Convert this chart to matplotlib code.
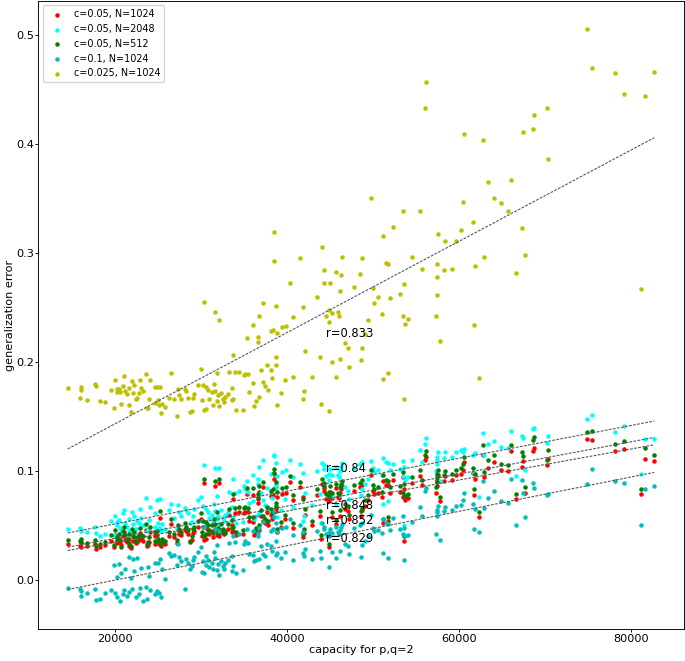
import numpy as np
import matplotlib.pyplot as plt

# network capacity (shared by all runs)
capacity = [
    14565, 16030, 16107, 16150, 16760, 17764, 17879, 18303, 18881, 19650,
    19998, 20114, 20306, 20345, 20500, 20653, 20807, 21000, 21077, 21193,
    21500, 21655, 21732, 21963, 22040, 22156, 22271, 22464, 22657, 22811,
    23003, 23119, 23350, 23658, 23735, 23890, 23967, 24121, 24660, 24737,
    24968, 25046, 25123, 25277, 25354, 25508, 25816, 26356, 26510, 26895,
    27203, 27319, 27511, 27665, 28128, 28282, 28513, 28744, 28976, 29168,
    29284, 29746, 30016, 30170, 30247, 30390, 30401, 30594, 30671, 30825,
    30941, 31326, 31441, 31519, 31634, 31720, 31865, 31904, 32020, 32080,
    32174, 32366, 32559, 32752, 32829, 33137, 33252, 33599, 33638, 33715,
    33792, 34023, 34100, 34408, 34871, 34986, 35140, 35410, 35525, 35641,
    36060, 36064, 36219, 36411, 36660, 36700, 36740, 36796, 36990, 37220,
    37221, 37452, 37760, 37800, 38150, 38222, 38300, 38430, 38470, 38510,
    38762, 38800, 38790, 38830, 38840, 39340, 39430, 39840, 39870, 40360,
    40720, 40730, 41480, 41880, 41920, 41960, 42080, 42960, 43490, 43810,
    43930, 44090, 44290, 44330, 44500, 44860, 44890, 44900, 45020, 45200,
    45260, 45660, 45700, 45900, 46100, 46200, 46220, 46340, 46380, 46710,
    47070, 47240, 47750, 48470, 48670, 48700, 48790, 49120, 49440, 49760,
    50000, 50120, 50600, 51000, 51170, 51200, 51530, 51750, 51810, 51970,
    52290, 53130, 53500, 53540, 53640, 53660, 53700, 54100, 54540, 55420,
    55710, 56030, 56110, 57310, 57390, 57400, 57430, 57590, 57840, 58280,
    58400, 59240, 59600, 60200, 60490, 60570, 61570, 61770, 61850, 62270,
    62820, 62940, 63380, 64100, 64910, 65670, 66030, 66630, 67320, 67400,
    67640, 68600, 68720, 70250, 70370, 74870, 75390, 78090, 79210, 81140,
    81620, 82670]

# c=0.05, N=1024
err_c05_n1024 = [
    .033, .031, .030, .034, .031, .033, .028, .030, .032, .036,
    .030, .041, .036, .034, .038, .035, .032, .040, .044, .037,
    .035, .031, .038, .029, .042, .036, .039, .034, .035, .037,
    .043, .038, .036, .046, .031, .032, .035, .044, .033, .040,
    .041, .035, .033, .057, .031, .035, .033, .040, .051, .039,
    .034, .046, .042, .041, .047, .045, .042, .036, .037, .043,
    .045, .049, .056, .040, .049, .089, .037, .038, .048, .046,
    .042, .045, .039, .051, .047, .086, .057, .041, .044, .089,
    .040, .046, .043, .042, .045, .047, .060, .050, .044, .074,
    .045, .061, .041, .062, .042, .061, .062, .079, .062, .054,
    .078, .053, .041, .044, .074, .071, .081, .046, .059, .085,
    .054, .052, .062, .050, .077, .060, .056, .078, .093, .097,
    .066, .063, .085, .076, .044, .049, .079, .056, .080, .090,
    .073, .048, .085, .076, .039, .043, .060, .050, .078, .059,
    .038, .088, .082, .084, .074, .076, .030, .072, .081, .058,
    .075, .084, .051, .076, .075, .059, .080, .083, .086, .065,
    .063, .056, .082, .085, .059, .087, .064, .068, .073, .096,
    .082, .079, .080, .076, .091, .052, .087, .054, .087, .080,
    .092, .081, .076, .094, .036, .083, .073, .075, .089, .095,
    .087, .110, .113, .080, .092, .090, .086, .096, .072, .091,
    .095, .092, .096, .097, .101, .108, .098, .078, .093, .058,
    .115, .094, .103, .108, .101, .100, .118, .074, .104, .109,
    .080, .118, .121, .105, .111, .129, .128, .118, .120, .079,
    .111, .109]

# c=0.05, N=2048
err_c05_n2048 = [
    .047, .048, .045, .046, .044, .049, .043, .040, .042, .054,
    .041, .059, .053, .050, .055, .048, .044, .061, .064, .052,
    .049, .045, .056, .042, .062, .051, .059, .047, .054, .052,
    .065, .057, .050, .075, .045, .047, .055, .067, .049, .061,
    .073, .052, .048, .074, .045, .051, .047, .064, .070, .057,
    .048, .069, .062, .059, .066, .064, .061, .052, .053, .059,
    .065, .073, .076, .054, .068, .105, .049, .052, .065, .062,
    .057, .060, .053, .070, .063, .103, .077, .056, .059, .103,
    .051, .064, .057, .054, .060, .062, .081, .067, .055, .093,
    .058, .080, .052, .082, .053, .086, .083, .091, .081, .071,
    .096, .072, .056, .059, .093, .088, .104, .061, .080, .110,
    .073, .069, .084, .066, .097, .081, .075, .098, .114, .115,
    .087, .084, .107, .095, .058, .064, .099, .074, .101, .110,
    .094, .067, .106, .098, .054, .059, .080, .069, .100, .079,
    .052, .107, .102, .105, .095, .097, .044, .092, .102, .077,
    .096, .104, .069, .096, .094, .078, .100, .104, .107, .085,
    .082, .074, .103, .106, .078, .108, .083, .088, .093, .109,
    .103, .099, .101, .096, .112, .070, .108, .072, .107, .101,
    .106, .102, .095, .109, .050, .104, .092, .094, .110, .119,
    .108, .125, .130, .100, .113, .110, .106, .117, .091, .112,
    .117, .113, .117, .119, .117, .120, .115, .098, .116, .076,
    .135, .115, .125, .127, .122, .121, .137, .095, .132, .130,
    .101, .138, .139, .126, .132, .148, .151, .136, .141, .097,
    .129, .129]

# c=0.05, N=512
err_c05_n512 = [
    .037, .036, .035, .038, .034, .037, .031, .033, .035, .041,
    .032, .046, .039, .038, .042, .037, .030, .045, .049, .041,
    .038, .034, .042, .031, .047, .040, .044, .036, .039, .040,
    .048, .041, .040, .051, .033, .035, .039, .049, .036, .044,
    .045, .038, .035, .063, .033, .038, .036, .044, .056, .042,
    .037, .050, .047, .044, .052, .049, .046, .035, .040, .047,
    .049, .054, .061, .044, .054, .093, .040, .042, .053, .050,
    .046, .050, .043, .056, .051, .091, .062, .045, .048, .093,
    .043, .051, .047, .045, .043, .051, .065, .055, .048, .079,
    .049, .066, .044, .067, .046, .066, .067, .084, .066, .058,
    .084, .058, .045, .048, .079, .076, .086, .050, .064, .090,
    .059, .056, .067, .054, .082, .065, .061, .083, .098, .102,
    .071, .068, .090, .081, .047, .053, .084, .060, .085, .095,
    .078, .052, .090, .074, .042, .047, .065, .054, .083, .063,
    .041, .093, .086, .089, .079, .081, .033, .077, .086, .062,
    .080, .088, .055, .080, .079, .064, .085, .088, .091, .070,
    .068, .060, .087, .089, .063, .092, .066, .073, .078, .101,
    .087, .083, .085, .081, .096, .056, .092, .058, .091, .085,
    .097, .086, .080, .099, .040, .088, .077, .079, .094, .101,
    .092, .115, .118, .085, .097, .094, .090, .101, .076, .096,
    .100, .097, .101, .103, .106, .113, .103, .083, .097, .062,
    .124, .099, .110, .115, .106, .105, .124, .079, .117, .114,
    .085, .128, .131, .110, .119, .136, .137, .125, .127, .083,
    .121, .115]

# c=0.1, N=1024
err_c01_n1024 = [
    -.007, -.008, -.015, -.010, -.012, -.008, -.018, -.017, -.012, -.009,
    .014, -.012, .003, -.016, .015, -.019, .006, -.013, -.009, .010,
    -.015, .021, -.011, .002, -.008, .019, .008, -.016, .020, -.013,
    -.007, .011, -.019, -.006, -.017, .012, .004, -.009, -.013, .016,
    -.010, .016, -.012, .019, -.016, .010, .001, .025, .022, .023,
    .014, .033, .021, .017, -.008, .019, .016, .010, .013, .018,
    .021, .026, .030, .007, .017, .049, .006, .014, .022, .018,
    .012, .016, .010, .026, .020, .047, .032, .009, .015, .045,
    .005, .017, .013, .010, .016, .018, .034, .022, .008, .040,
    .013, .035, .006, .042, .009, .033, .036, .047, .034, .024,
    .045, .023, .017, .018, .043, .040, .048, .019, .031, .053,
    .024, .022, .033, .012, .045, .031, .027, .047, .058, .062,
    .036, .023, .052, .044, .025, .020, .048, .026, .049, .056,
    .041, .018, .050, .044, .025, .022, .028, .019, .045, .027,
    .020, .052, .047, .049, .042, .043, .012, .040, .047, .026,
    .043, .049, .020, .044, .042, .027, .046, .049, .051, .033,
    .031, .024, .048, .050, .021, .052, .032, .036, .040, .060,
    .048, .045, .046, .043, .056, .025, .052, .020, .051, .046,
    .057, .047, .042, .059, .018, .048, .040, .041, .053, .067,
    .059, .082, .084, .042, .064, .062, .059, .068, .037, .063,
    .067, .064, .068, .069, .073, .080, .070, .047, .065, .044,
    .091, .066, .075, .082, .072, .071, .093, .050, .092, .080,
    .058, .089, .084, .078, .079, .088, .102, .091, .089, .050,
    .083, .086]

# c=0.025, N=1024
err_c025_n1024 = [
    .1756, .1673, .1771, .1740, .1652, .1801, .1780, .1643, .1633, .1743,
    .1575, .1835, .1749, .1725, .1749, .1725, .1612, .1780, .1872, .1731,
    .1707, .1603, .1756, .1536, .1829, .1713, .1792, .1658, .1673, .1716,
    .1835, .1756, .1731, .1890, .1578, .1575, .1658, .1835, .1621, .1768,
    .1768, .1652, .1600, .1771, .1530, .1615, .1582, .1667, .1899, .1655,
    .1508, .1749, .1698, .1661, .1749, .1734, .1667, .1542, .1551, .1667,
    .1701, .1792, .1930, .1646, .1789, .2551, .1557, .1572, .1771, .1740,
    .1661, .1725, .1603, .1801, .1734, .2453, .1902, .1640, .1695, .2386,
    .1597, .1716, .1658, .1636, .1682, .1701, .1908, .1756, .1652, .2061,
    .1658, .1905, .1557, .1908, .1557, .1884, .1893, .2218, .1887, .1728,
    .2334, .1807, .1594, .1643, .2230, .2185, .2423, .1676, .1924, .2539,
    .1814, .1777, .1972, .1740, .2282, .1927, .1850, .2295, .2924, .3192,
    .2040, .1975, .2508, .2264, .1603, .1710, .2316, .1835, .2328, .2719,
    .2410, .1865, .2951, .2499, .1658, .1737, .2100, .1865, .2597, .2043,
    .1615, .3055, .2725, .2841, .2423, .2475, .1548, .2362, .2719, .2003,
    .2444, .2820, .1862, .2453, .2420, .2027, .2646, .2801, .2963, .2170,
    .2124, .1951, .2688, .2808, .2018, .2954, .2124, .2252, .2383, .3504,
    .2679, .2536, .2597, .2438, .3153, .1844, .2902, .1899, .2899, .2588,
    .3235, .2621, .2420, .3381, .1658, .2710, .2350, .2396, .2957, .3381,
    .2856, .4331, .4566, .2420, .2896, .2774, .2609, .3171, .2188, .2838,
    .3110, .2853, .3110, .3211, .3464, .4090, .3281, .2340, .2878, .1850,
    .4032, .2963, .3650, .3498, .3458, .3385, .3669, .2814, .3223, .4111,
    .2982, .4139, .4264, .4328, .3864, .5050, .4694, .4649, .4456, .2667,
    .4438, .4658]

labels = ['c=0.05, N=1024', 'c=0.05, N=2048', 'c=0.05, N=512',
          'c=0.1, N=1024', 'c=0.025, N=1024']
colors = ['r', 'cyan', 'g', 'c', 'y']
r_text = ['0.84', '0.848', '0.852', '0.829', '0.833']

plt.rcParams.update({
    'font.size': 8.1,
    'axes.linewidth': 0.66,
    'axes.labelpad': 0.8,
    'xtick.major.size': 2.0, 'ytick.major.size': 2.0,
    'xtick.major.width': 0.66, 'ytick.major.width': 0.66,
    'xtick.major.pad': 1.1, 'ytick.major.pad': 1.4,
})

fig = plt.figure(figsize=(6.85, 6.61), dpi=100)
ax = fig.add_axes([0.056, 0.048, 0.942, 0.951])

errors = [err_c05_n1024, err_c05_n2048, err_c05_n512, err_c01_n1024, err_c025_n1024]
x = np.array(capacity)

for err, col, lab in zip(errors, colors, labels):
    ax.scatter(x, err, s=5, c=col, label=lab)

# linear fits
xs = np.array([x.min(), x.max()])
for err in errors:
    coef = np.polyfit(x, err, 1)
    ax.plot(xs, np.polyval(coef, xs), color='0.35', lw=0.8, dashes=(2.5, 1.2))

# correlation labels
r_y = [0.0989, 0.065, 0.0516, 0.0348, 0.2225]
for txt, yy in zip(r_text, r_y):
    ax.text(44500, yy, 'r=' + txt, fontsize=8.3)

ax.set_xlabel('capacity for p,q=2')
ax.set_ylabel('generalization error')
ax.set_xticks([20000, 40000, 60000, 80000])
ax.legend(loc='upper left', fontsize=6.9)

fig.savefig('out.png', dpi=100)
